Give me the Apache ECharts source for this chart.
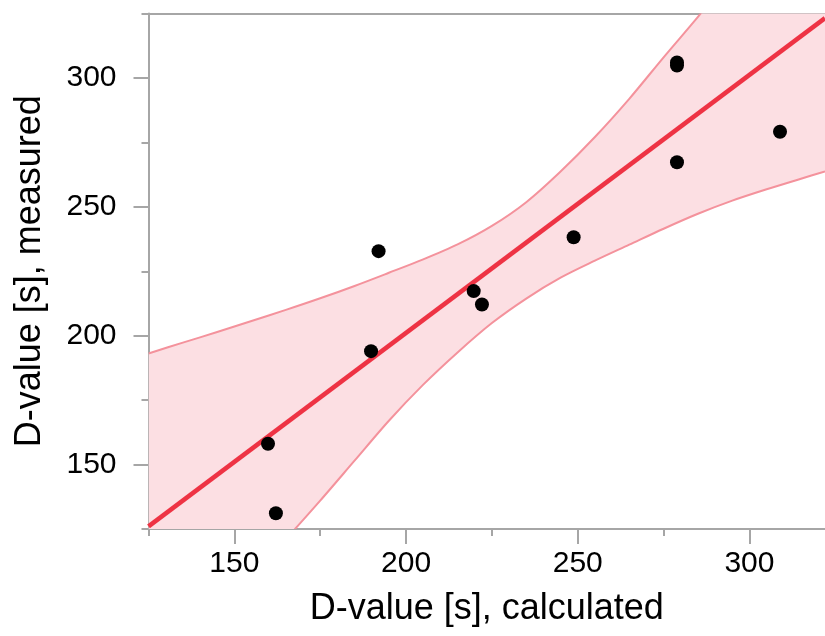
<!DOCTYPE html>
<html>
<head>
<meta charset="utf-8">
<script src="https://cdn.jsdelivr.net/npm/echarts@6/dist/echarts.min.js"></script>
<style>html,body{margin:0;padding:0;background:#fff;}#c{width:825px;height:636px;}</style>
</head>
<body>
<div id="c"></div>
<script>
// Measured points: calculated vs measured D-value [s]
var pointsCalc = [159.8, 162.1, 189.8, 192.0, 219.7, 222.1, 248.8, 278.9, 278.9, 278.9, 308.9];
var pointsMeas = [158.1, 131.1, 194.0, 232.8, 217.3, 212.1, 238.2, 306.0, 304.8, 267.3, 279.1];

// Regression line (end points)
var fitX = [125, 322];
var fitY = [126.0, 323.2];

// Confidence band
var bandX     = [125,   135,   145,   155,   165,   175,   185,   195,   205,   215,   225,   235,   245,   255,   265,   275,   285,   295,   305,   315,   322];
var bandUpper = [193.1, 197.3, 201.4, 205.7, 210.0, 214.5, 219.3, 224.4, 229.6, 235.4, 242.6, 251.8, 263.7, 277.1, 291.9, 308.0, 323.7, 340.2, 355.9, 371.6, 382.7];
var bandLower = [58.9,  74.8,  90.6,  106.0, 121.0, 136.0, 151.5, 167.0, 181.0, 193.5, 204.9, 214.4, 222.5, 229.1, 235.3, 241.5, 247.3, 252.4, 256.8, 260.9, 263.7];

// Axis ticks
var xMajor = [150, 200, 250, 300];
var xMinor = [125, 175, 225, 275];
var yMajor = [150, 200, 250, 300];
var yMinor = [125, 175, 225, 275, 325];

var xTitle = 'D-value [s], calculated';
var yTitle = 'D-value [s], measured';

var FONT = '"Liberation Sans", Arial, Helvetica, sans-serif';
var AXIS_COLOR = '#a6a6a6';

function zip(a, b) { return a.map(function (v, i) { return [v, b[i]]; }); }

var chart = echarts.init(document.getElementById('c'), null, { renderer: 'canvas' });

var xRange = { min: 125, max: 322 };
var yRange = { min: 125, max: 325 };

var bandData = bandX.map(function (x, i) { return [x, bandLower[i], bandUpper[i]]; });

function renderBand(params, api) {
  if (params.dataIndex !== 0) return null;
  var upperPts = [], lowerPts = [];
  for (var i = 0; i < bandX.length; i++) {
    upperPts.push(api.coord([bandX[i], bandUpper[i]]));
    lowerPts.push(api.coord([bandX[i], bandLower[i]]));
  }
  var poly = upperPts.concat(lowerPts.slice().reverse());
  var cs = params.coordSys;
  return {
    type: 'group',
    clipPath: { type: 'rect', shape: { x: cs.x, y: cs.y, width: cs.width, height: cs.height } },
    children: [
      { type: 'polygon', shape: { points: poly, smooth: 0 }, style: { fill: '#fcdfe3', stroke: null } },
      { type: 'polyline', shape: { points: upperPts, smooth: 0.3 }, style: { fill: null, stroke: '#f4929c', lineWidth: 2 } },
      { type: 'polyline', shape: { points: lowerPts, smooth: 0.3 }, style: { fill: null, stroke: '#f4929c', lineWidth: 2 } }
    ]
  };
}

var option = {
  animation: false,
  backgroundColor: '#ffffff',
  grid: { left: 148.5, right: 0, top: 13.5, bottom: 107, containLabel: false },
  xAxis: [
    {
      type: 'value', position: 'bottom', min: xRange.min, max: xRange.max,
      axisLine: { show: true, lineStyle: { color: AXIS_COLOR, width: 2 } },
      axisTick: { show: true, customValues: xMajor, length: 15, lineStyle: { color: AXIS_COLOR, width: 2 } },
      axisLabel: { show: true, customValues: xMajor, margin: 20, color: '#000', fontFamily: FONT, fontSize: 30 },
      splitLine: { show: false },
      name: xTitle, nameLocation: 'middle', nameGap: 62,
      nameTextStyle: { color: '#000', fontFamily: FONT, fontSize: 36 }
    },
    {
      type: 'value', position: 'bottom', min: xRange.min, max: xRange.max,
      axisLine: { show: false },
      axisTick: { show: true, customValues: xMinor, length: 7, lineStyle: { color: AXIS_COLOR, width: 2 } },
      axisLabel: { show: false },
      splitLine: { show: false }
    },
    {
      type: 'value', position: 'top', min: xRange.min, max: xRange.max,
      axisLine: { show: true, lineStyle: { color: AXIS_COLOR, width: 2 } },
      axisTick: { show: false }, axisLabel: { show: false }, splitLine: { show: false }
    }
  ],
  yAxis: [
    {
      type: 'value', position: 'left', min: yRange.min, max: yRange.max,
      axisLine: { show: true, lineStyle: { color: AXIS_COLOR, width: 2 } },
      axisTick: { show: true, customValues: yMajor, length: 15, lineStyle: { color: AXIS_COLOR, width: 2 } },
      axisLabel: { show: true, customValues: yMajor, margin: 32, color: '#000', fontFamily: FONT, fontSize: 30 },
      splitLine: { show: false },
      name: yTitle, nameLocation: 'middle', nameGap: 100,
      nameTextStyle: { color: '#000', fontFamily: FONT, fontSize: 36 }
    },
    {
      type: 'value', position: 'left', min: yRange.min, max: yRange.max,
      axisLine: { show: false },
      axisTick: { show: true, customValues: yMinor, length: 7, lineStyle: { color: AXIS_COLOR, width: 2 } },
      axisLabel: { show: false },
      splitLine: { show: false }
    }
  ],
  series: [
    {
      name: 'band', type: 'custom', xAxisIndex: 0, yAxisIndex: 0,
      data: bandData, encode: { x: 0, y: [1, 2] },
      renderItem: renderBand, silent: true, z: 1
    },
    {
      name: 'fit', type: 'line', xAxisIndex: 0, yAxisIndex: 0,
      data: zip(fitX, fitY), symbol: 'none',
      lineStyle: { color: '#ee3344', width: 4.5 }, silent: true, z: 3
    },
    {
      name: 'points', type: 'scatter', xAxisIndex: 0, yAxisIndex: 0,
      data: zip(pointsCalc, pointsMeas), symbol: 'circle', symbolSize: 14,
      itemStyle: { color: '#000000', opacity: 1 }, z: 4
    }
  ]
};
chart.setOption(option);
</script>
</body>
</html>
